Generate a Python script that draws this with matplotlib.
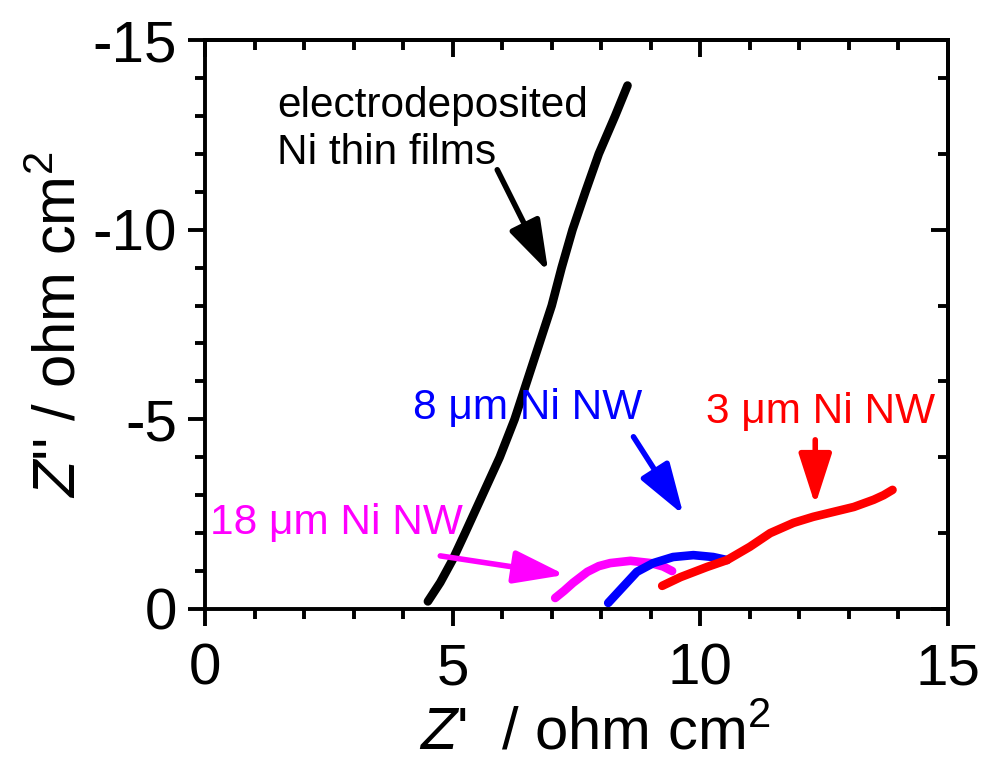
import matplotlib
matplotlib.use("Agg")
import matplotlib.pyplot as plt
from matplotlib.ticker import MultipleLocator, FuncFormatter

plt.rcParams['font.family'] = ['Liberation Sans', 'DejaVu Sans']
plt.rcParams['mathtext.fontset'] = 'custom'
plt.rcParams['mathtext.rm'] = 'Liberation Sans'
plt.rcParams['mathtext.it'] = 'Liberation Sans:italic'
plt.rcParams['axes.unicode_minus'] = False

# ---- data (Z' , Z'') in ohm cm^2 ----
film_x = [4.50, 4.75, 5.00, 5.25, 5.60, 5.95, 6.25, 6.50, 6.75, 7.00, 7.20, 7.42, 7.68, 7.95, 8.28, 8.53]
film_y = [-0.2, -0.7, -1.3, -2.0, -3.0, -4.0, -5.0, -6.0, -7.0, -8.0, -9.0, -10.0, -11.0, -12.0, -13.0, -13.8]

nw18_x = [7.07, 7.25, 7.43, 7.72, 7.95, 8.18, 8.59, 9.00, 9.25, 9.43]
nw18_y = [-0.29, -0.48, -0.69, -0.98, -1.13, -1.21, -1.27, -1.21, -1.12, -1.00]

nw8_x = [8.14, 8.38, 8.72, 9.05, 9.45, 9.86, 10.26, 10.54]
nw8_y = [-0.16, -0.50, -0.98, -1.21, -1.37, -1.42, -1.37, -1.29]

nw3_x = [9.23, 9.60, 10.14, 10.54, 11.00, 11.41, 11.88, 12.28, 12.69, 13.10, 13.50, 13.70, 13.88]
nw3_y = [-0.61, -0.84, -1.11, -1.29, -1.64, -2.00, -2.27, -2.43, -2.56, -2.69, -2.88, -3.00, -3.14]

labels = ["electrodeposited\nNi thin films", "18 \u03bcm Ni NW", "8 \u03bcm Ni NW", "3 \u03bcm Ni NW"]
colors = ["black", "#ff00ff", "#0000ff", "#ff0000"]
label_pos = [(1.45, -12.64), (0.1, -2.27), (4.2, -5.3), (10.12, -5.2)]
arrow_tail = [(5.90, -11.58), (4.75, -1.40), (8.65, -4.54), (12.32, -4.46)]
arrow_tip = [(6.93, -8.89), (7.27, -0.90), (9.66, -2.48), (12.32, -2.74)]

xticks = [0, 5, 10, 15]
yticks = [0, -5, -10, -15]

fig = plt.figure(figsize=(9.88, 7.64), dpi=100)
ax = fig.add_axes([0.2075, 0.2029, 0.752, 0.7447])

series = [(film_x, film_y), (nw18_x, nw18_y), (nw8_x, nw8_y), (nw3_x, nw3_y)]
for (xs, ys), c in zip(series, colors):
    ax.plot(xs, ys, color=c, lw=6.2, solid_capstyle='round', solid_joinstyle='round')

for lab, c, pos, tail, tip in zip(labels, colors, label_pos, arrow_tail, arrow_tip):
    ax.text(pos[0], pos[1], lab, color=c, fontsize=30.5, ha='left', va='center', linespacing=1.25)
    ax.annotate("", xy=tip, xytext=tail,
                arrowprops=dict(arrowstyle='-|>,head_length=1.3,head_width=0.42', lw=4, color=c,
                                shrinkA=0, shrinkB=0, mutation_scale=24))

ax.set_xlim(0, 15)
ax.set_ylim(0, -15)
ax.set_xticks(xticks)
ax.set_yticks(yticks)
ax.xaxis.set_minor_locator(MultipleLocator(1))
ax.yaxis.set_minor_locator(MultipleLocator(1))
fmt = FuncFormatter(lambda v, p: f"{v:g}".replace("\u2212", "-"))
ax.xaxis.set_major_formatter(fmt)
ax.yaxis.set_major_formatter(fmt)

LW = 2.8
for s in ax.spines.values():
    s.set_linewidth(LW)
ax.tick_params(which='major', direction='out', length=12, width=LW, labelsize=42,
               top=False, right=False)
ax.tick_params(axis='x', which='major', pad=12)
ax.tick_params(axis='y', which='major', pad=8)
ax.tick_params(which='minor', direction='out', length=7, width=LW, top=False, right=False)

# top axis: inward ticks
secx = ax.secondary_xaxis('top')
secx.set_xticks(xticks)
secx.xaxis.set_minor_locator(MultipleLocator(1))
secx.tick_params(which='major', direction='in', length=12, width=LW, labeltop=False)
secx.tick_params(which='minor', direction='in', length=7, width=LW)
secx.spines['top'].set_linewidth(LW)

# right axis: inward ticks, major every 10, minor every 2
secy = ax.secondary_yaxis('right')
secy.yaxis.set_major_locator(MultipleLocator(10))
secy.yaxis.set_minor_locator(MultipleLocator(2))
secy.tick_params(which='major', direction='in', length=12, width=LW, labelright=False)
secy.tick_params(which='minor', direction='in', length=7, width=LW)
secy.spines['right'].set_linewidth(LW)

ax.set_xlabel(r"$Z$'  / ohm cm$^2$", fontsize=43, labelpad=7)
ax.xaxis.label.set_x(0.524)
ax.set_ylabel(r"$Z$'' / ohm cm$^2$", fontsize=43, labelpad=4)

fig.savefig("out.png", dpi=100)
